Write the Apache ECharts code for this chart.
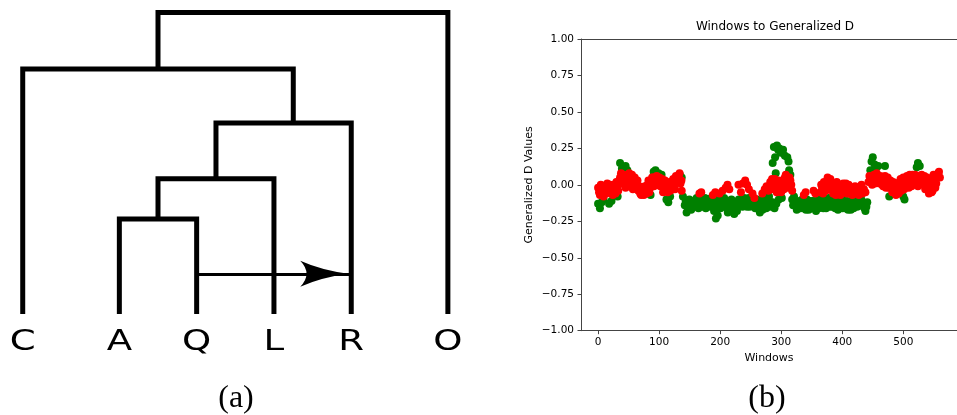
<!DOCTYPE html>
<html><head><meta charset="utf-8">
<script src="https://cdn.jsdelivr.net/npm/echarts@6/dist/echarts.min.js"></script>
<style>html,body{margin:0;padding:0;background:#fff}#c{width:957px;height:415px}</style>
</head><body><div id="c"></div>
<script>
// ---------- (a) dendrogram ----------
const leaves = ['C', 'A', 'Q', 'L', 'R', 'O'];
const leafPos = [0, 1.25, 2.25, 3.25, 4.25, 5.5];
const mergeLeft = ['A', 'N0', 'N1', 'C', 'N3'];
const mergeRight = ['Q', 'L', 'R', 'N2', 'O'];
const mergeHeight = [1.23, 1.75, 2.47, 3.17, 3.9];
const mergeX = [1.75, 2.5, 3.5, 1.75, 3.6];
const arrowFrom = 'Q', arrowTo = 'R', arrowHeight = 0.52;
const leafLabelY = -0.37;

// ---------- (b) windows to generalized D ----------
const xTicks = [0, 100, 200, 300, 400, 500];
const greenPoints = [
  [0,-0.13],[3,-0.16],[6,-0.12],[9,-0.10],[18,-0.13],[22,-0.11],[32,-0.08],[36,0.15],[39,0.11],[45,0.13],[48,0.10],
  [86,-0.07],[91,0.09],[94,0.10],[99,0.08],[104,0.07],[112,-0.10],[115,-0.12],[118,-0.08],[134,0.07],[137,0.05],[139,-0.08],
  [142,-0.14],[145,-0.19],[148,-0.16],[151,-0.12],[154,-0.14],[157,-0.11],[160,-0.13],[163,-0.10],[166,-0.14],[169,-0.12],
  [172,-0.15],[175,-0.09],[178,-0.13],[181,-0.11],[184,-0.15],[187,-0.12],[190,-0.18],[193,-0.23],[196,-0.21],[199,-0.13],
  [202,-0.10],[205,-0.14],[208,-0.12],[211,-0.16],[214,-0.11],[217,-0.14],[220,-0.18],[223,-0.20],[226,-0.15],[229,-0.12],
  [232,-0.14],[235,-0.10],[238,-0.13],[241,-0.11],[244,-0.15],[247,-0.09],[250,-0.12],[253,-0.14],[256,-0.11],[259,-0.13],
  [262,-0.16],[265,-0.19],[268,-0.14],[271,-0.11],[274,-0.09],[277,-0.13],[280,-0.08],[283,-0.12],
  [286,-0.12],[286,0.15],[288,0.26],[289,-0.16],[290,0.19],[291,0.08],[292,-0.13],[293,0.27],[295,0.24],[296,-0.10],
  [297,0.25],[299,0.22],[301,-0.09],[303,0.24],[306,0.20],[310,0.19],[312,0.16],[313,0.10],[315,0.07],
  [318,-0.10],[321,-0.08],[324,-0.13],[327,-0.15],[330,-0.11],[333,-0.14],[336,-0.16],[339,-0.12],[342,-0.10],[345,-0.17],
  [348,-0.13],[351,-0.11],[354,-0.15],[357,-0.18],[360,-0.12],[363,-0.09],[366,-0.14],[369,-0.16],[372,-0.11],[375,-0.13],
  [378,-0.09],[381,-0.12],[384,-0.15],[387,-0.10],[390,-0.14],[393,-0.17],[396,-0.12],[399,-0.09],[402,-0.13],[405,-0.16],
  [408,-0.11],[411,-0.14],[414,-0.17],[417,-0.10],[420,-0.08],[423,-0.12],[426,-0.10],[429,-0.14],[432,-0.11],[435,-0.15],
  [438,-0.18],[441,-0.12],
  [446,0.10],[448,0.16],[450,0.19],[453,0.14],[456,0.12],[459,0.13],[470,0.13],[477,-0.08],[500,-0.08],[502,-0.10],
  [522,0.12],[524,0.15],[527,0.13]
];
const greenMid = [
  [143.5,-0.11],[146.5,-0.15],[149.5,-0.10],[152.5,-0.17],[155.5,-0.12],[158.5,-0.15],[161.5,-0.09],[164.5,-0.16],
  [167.5,-0.10],[170.5,-0.13],[173.5,-0.11],[176.5,-0.16],[179.5,-0.10],[182.5,-0.13],[185.5,-0.09],[188.5,-0.15],
  [191.5,-0.12],[194.5,-0.17],[197.5,-0.10],[200.5,-0.16],[203.5,-0.12],[206.5,-0.09],[209.5,-0.14],[212.5,-0.19],
  [215.5,-0.13],[218.5,-0.10],[221.5,-0.15],[224.5,-0.12],[227.5,-0.18],[230.5,-0.10],[233.5,-0.12],[236.5,-0.15],
  [239.5,-0.09],[242.5,-0.13],[245.5,-0.11],[248.5,-0.15],[251.5,-0.10],[254.5,-0.13],[257.5,-0.16],[260.5,-0.10],
  [263.5,-0.13],[266.5,-0.11],[269.5,-0.17],[272.5,-0.13],[275.5,-0.16],[278.5,-0.11],[281.5,-0.15],
  [319.5,-0.14],[322.5,-0.11],[325.5,-0.17],[328.5,-0.12],[331.5,-0.16],[334.5,-0.10],[337.5,-0.14],[340.5,-0.17],
  [343.5,-0.13],[346.5,-0.11],[349.5,-0.16],[352.5,-0.14],[355.5,-0.11],[358.5,-0.15],[361.5,-0.16],[364.5,-0.12],
  [367.5,-0.10],[370.5,-0.13],[373.5,-0.16],[376.5,-0.11],[379.5,-0.15],[382.5,-0.10],[385.5,-0.12],[388.5,-0.16],
  [391.5,-0.11],[394.5,-0.14],[397.5,-0.10],[400.5,-0.16],[403.5,-0.11],[406.5,-0.13],[409.5,-0.17],[412.5,-0.12],
  [415.5,-0.14],[418.5,-0.16],[421.5,-0.11],[424.5,-0.15],[427.5,-0.12],[430.5,-0.09],[433.5,-0.13],[436.5,-0.16],
  [439.5,-0.15]
];
const redPoints = [
  [0,-0.02],[3,-0.07],[6,-0.04],[9,-0.08],[12,-0.03],[15,0.01],[18,-0.05],[21,-0.02],[24,-0.07],[27,-0.03],[30,0.02],
  [33,-0.04],[36,0.05],[39,0.01],[42,0.07],[45,-0.02],[48,0.04],[51,0.08],[54,0.02],[57,-0.03],[60,0.05],[63,0.01],
  [66,-0.04],[69,-0.06],[72,-0.02],[75,-0.07],[78,-0.03],[81,0.00],[84,-0.05],[87,0.02],[90,0.05],[93,0.01],[96,0.06],
  [99,0.03],[102,-0.01],[105,0.04],[108,-0.03],[111,0.01],[114,-0.05],[117,0.02],[120,-0.01],[123,0.04],[126,-0.03],
  [129,0.03],[132,0.06],[135,0.01],[137,-0.04],
  [166,-0.06],[169,-0.05],[188,-0.07],[192,-0.05],[199,-0.06],[204,-0.04],[209,-0.02],[212,0.00],[215,-0.03],[230,0.00],
  [234,-0.05],[237,0.01],[241,0.03],[244,0.00],[247,-0.03],[253,-0.06],[256,-0.09],[269,-0.06],[273,-0.03],[276,-0.01],
  [279,-0.04],
  [282,0.02],[285,0.04],[288,-0.01],[291,0.02],[294,-0.03],[297,0.00],[300,-0.05],[303,0.01],[306,0.05],[309,0.02],
  [312,-0.02],[315,0.03],[318,-0.04],
  [337,-0.07],[340,-0.05],[353,-0.04],[356,-0.06],
  [364,-0.05],[367,-0.02],[370,0.02],[373,-0.04],[376,0.05],[379,0.01],[382,-0.03],[385,-0.06],[388,-0.01],[391,0.02],
  [394,-0.04],[397,-0.07],[400,-0.02],[403,-0.05],[406,0.01],[409,-0.03],[412,-0.06],[415,-0.02],[418,-0.05],[421,-0.01],
  [424,-0.04],[427,-0.07],[430,-0.03],[433,-0.06],[438,-0.05],
  [443,0.02],[446,0.05],[449,0.00],[452,0.07],[455,0.03],[458,0.06],[461,0.01],[464,0.04],[467,-0.01],[470,0.06],
  [473,0.02],[476,-0.02],[479,0.03],[482,-0.05],[485,0.00],[488,-0.07],[491,-0.03],[494,0.02],[497,-0.04],[500,0.05],
  [503,0.00],[506,0.06],[509,-0.02],[512,0.03],[515,0.07],[518,0.01],[521,0.05],[524,-0.01],[527,0.04],[530,0.07],
  [533,0.02],[536,-0.03],[539,0.05],[542,-0.06],[545,0.00],[548,-0.04],[551,0.04],[554,0.01],[557,0.08],[560,0.05]
];
const redMid = [
  [1.5,-0.05],[4.5,0.00],[7.5,-0.06],[10.5,-0.01],[13.5,-0.06],[16.5,-0.03],[19.5,0.00],[22.5,-0.06],[25.5,0.00],
  [28.5,-0.06],[31.5,-0.01],[34.5,0.03],[37.5,0.08],[40.5,0.03],[43.5,0.00],[46.5,0.06],[49.5,-0.01],[52.5,0.05],
  [55.5,0.07],[58.5,0.01],[61.5,-0.02],[64.5,0.03],[67.5,-0.01],[70.5,-0.07],[73.5,-0.04],[76.5,-0.01],[79.5,-0.06],
  [82.5,0.03],[85.5,-0.02],[88.5,0.05],[91.5,-0.01],[94.5,0.03],[97.5,0.00],[100.5,0.05],[103.5,0.01],[106.5,-0.05],
  [109.5,0.03],[112.5,-0.02],[115.5,0.00],[118.5,-0.04],[121.5,0.02],[124.5,0.00],[127.5,0.06],[130.5,0.02],
  [133.5,0.08],[136.5,0.03],
  [283.5,-0.03],[286.5,0.00],[289.5,0.04],[292.5,-0.05],[295.5,0.03],[298.5,-0.02],[301.5,0.03],[304.5,-0.03],
  [307.5,0.07],[310.5,-0.01],[313.5,0.05],[316.5,0.00],
  [365.5,0.00],[368.5,-0.06],[371.5,-0.01],[374.5,0.02],[377.5,-0.03],[380.5,0.04],[383.5,0.00],[386.5,-0.03],
  [389.5,-0.07],[392.5,-0.01],[395.5,0.00],[398.5,-0.04],[401.5,0.01],[404.5,-0.02],[407.5,-0.06],[410.5,0.00],
  [413.5,-0.03],[416.5,-0.07],[419.5,-0.02],[422.5,-0.06],[425.5,-0.02],[428.5,-0.04],[431.5,0.00],[435.5,-0.03],
  [444.5,0.06],[447.5,0.02],[450.5,0.04],[453.5,0.01],[456.5,0.08],[459.5,0.02],[462.5,0.06],[465.5,0.00],[468.5,0.04],
  [471.5,-0.02],[474.5,0.05],[477.5,0.00],[480.5,-0.02],[483.5,0.02],[486.5,-0.04],[489.5,0.01],[492.5,-0.06],
  [495.5,0.04],[498.5,0.00],[501.5,-0.03],[504.5,0.03],[507.5,0.02],[510.5,0.07],[513.5,-0.01],[516.5,0.03],
  [519.5,0.07],[522.5,0.02],[525.5,0.06],[528.5,0.00],[531.5,0.03],[534.5,0.06],[537.5,0.01],[540.5,-0.02],
  [543.5,0.03],[546.5,-0.05],[549.5,0.07],[552.5,-0.02],[555.5,0.05],[558.5,0.09]
];

// ---------- build ----------
function nodePos(name) {
  if (name[0] === 'N') { const i = +name.slice(1); return [mergeX[i], mergeHeight[i]]; }
  return [leafPos[leaves.indexOf(name)], 0];
}
const treeLines = mergeLeft.map((l, i) => {
  const a = nodePos(l), b = nodePos(mergeRight[i]), h = mergeHeight[i];
  return { coords: [[a[0], a[1]], [a[0], h], [b[0], h], [b[0], b[1]]] };
});
const arrowStart = [nodePos(arrowFrom)[0], arrowHeight];
const arrowEnd = [nodePos(arrowTo)[0], arrowHeight];
const fmtMinus = v => v.toFixed(2).replace('-', '\u2212');
const F = 'DejaVu Sans';

const chart = echarts.init(document.getElementById('c'), null, { renderer: 'canvas' });
chart.setOption({
  animation: false,
  backgroundColor: '#fff',
  title: [
    { text: 'Windows to Generalized D', left: 775, top: 27, textAlign: 'center', textVerticalAlign: 'middle', padding: 0,
      textStyle: { fontFamily: F, fontSize: 12, fontWeight: 'normal', color: '#000' } },
    { text: '(a)', left: 236, top: 399, textAlign: 'center', textVerticalAlign: 'middle', padding: 0,
      textStyle: { fontFamily: 'Liberation Serif', fontSize: 32, fontWeight: 'normal', color: '#000' } },
    { text: '(b)', left: 767, top: 399, textAlign: 'center', textVerticalAlign: 'middle', padding: 0,
      textStyle: { fontFamily: 'Liberation Serif', fontSize: 32, fontWeight: 'normal', color: '#000' } }
  ],
  grid: [
    { left: 3.4, top: 4.8, width: 463.8, height: 409.7 },
    { left: 581, top: 39, right: -14, height: 291.7 }
  ],
  xAxis: [
    { type: 'value', gridIndex: 0, min: -0.25, max: 5.75, show: false },
    { type: 'value', gridIndex: 1, min: -28, max: 588,
      axisLine: { show: true, onZero: false, lineStyle: { color: '#444', width: 1 } },
      axisTick: { show: true, length: 3.5, customValues: xTicks, lineStyle: { color: '#444' } },
      axisLabel: { customValues: xTicks, fontFamily: F, fontSize: 10.5, color: '#000', margin: 6 },
      splitLine: { show: false },
      name: 'Windows', nameLocation: 'middle', nameGap: 22,
      nameTextStyle: { fontFamily: F, fontSize: 11, color: '#000' } },
    { type: 'value', gridIndex: 1, position: 'top', min: -28, max: 588,
      axisLine: { show: true, onZero: false, lineStyle: { color: '#444', width: 1 } },
      axisTick: { show: false }, axisLabel: { show: false }, splitLine: { show: false } }
  ],
  yAxis: [
    { type: 'value', gridIndex: 0, min: -1.3, max: 4, show: false },
    { type: 'value', gridIndex: 1, min: -1, max: 1, interval: 0.25,
      axisLine: { show: true, onZero: false, lineStyle: { color: '#444', width: 1 } },
      axisTick: { show: true, length: 3.5, lineStyle: { color: '#444' } },
      axisLabel: { formatter: fmtMinus, fontFamily: F, fontSize: 10.5, color: '#000', margin: 7 },
      splitLine: { show: false },
      name: 'Generalized D Values', nameLocation: 'middle', nameGap: 46,
      nameTextStyle: { fontFamily: F, fontSize: 11, color: '#000' } }
  ],
  series: [
    { type: 'lines', coordinateSystem: 'cartesian2d', xAxisIndex: 0, yAxisIndex: 0, polyline: true,
      data: treeLines, silent: true,
      lineStyle: { color: '#000', width: 5, opacity: 1, cap: 'butt', join: 'miter', curveness: 0 } },
    { type: 'lines', coordinateSystem: 'cartesian2d', xAxisIndex: 0, yAxisIndex: 0,
      data: [{ coords: [arrowStart, arrowEnd] }], silent: true,
      lineStyle: { color: '#000', width: 3, opacity: 1, curveness: 0 } },
    { type: 'scatter', xAxisIndex: 0, yAxisIndex: 0, data: [arrowEnd], silent: true,
      symbol: 'path://M0,0 Q20,9 46,12.5 Q20,16 0,25 Q12,12.5 0,0 Z', symbolKeepAspect: false,
      symbolSize: [48, 26], symbolOffset: [-27, 0], itemStyle: { color: '#000', opacity: 1 } },
    { type: 'scatter', name: 'green', xAxisIndex: 1, yAxisIndex: 1, data: greenPoints.concat(greenMid),
      symbolSize: 8, itemStyle: { color: '#008000', opacity: 1 }, clip: false },
    { type: 'scatter', name: 'red', xAxisIndex: 1, yAxisIndex: 1, data: redPoints.concat(redMid),
      symbolSize: 8, itemStyle: { color: '#ff0000', opacity: 1 }, clip: false }
  ]
});
// leaf labels: real text, placed through the dendrogram grid's scales, drawn horizontally stretched
const leafText = leaves.map((name, i) => {
  const p = chart.convertToPixel({ gridIndex: 0 }, [leafPos[i], leafLabelY]);
  return { type: 'text', x: p[0], y: p[1], scaleX: 1.35, scaleY: 1, silent: true,
    style: { text: name, fontFamily: F, fontSize: 27.5, fontWeight: 'normal', fill: '#000',
      align: 'center', verticalAlign: 'middle' } };
});
chart.setOption({ graphic: leafText });
</script></body></html>
